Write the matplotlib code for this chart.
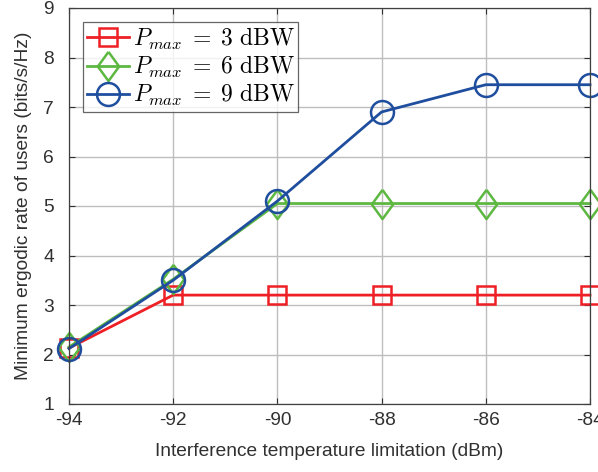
import numpy as np
import matplotlib
matplotlib.use('Agg')
import matplotlib.pyplot as plt

plt.rcParams['font.family'] = ['Liberation Sans', 'DejaVu Sans']
plt.rcParams['mathtext.fontset'] = 'cm'

# data
itl = [-94, -92, -90, -88, -86, -84]
rate_p3 = [2.13, 3.2, 3.2, 3.2, 3.2, 3.2]
rate_p6 = [2.15, 3.52, 5.05, 5.05, 5.05, 5.05]
rate_p9 = [2.12, 3.5, 5.1, 6.9, 7.45, 7.45]
labels = [r'$P_{max}\;=\;3\ \mathrm{dBW}$', r'$P_{max}\;=\;6\ \mathrm{dBW}$', r'$P_{max}\;=\;9\ \mathrm{dBW}$']

diamond = [(0, 1), (0.73, 0), (0, -1), (-0.73, 0), (0, 1)]

fig = plt.figure(figsize=(5.98, 4.72), dpi=100)
ax = fig.add_axes([69/598, 1 - 404/472, (590 - 69)/598, (404 - 8)/472])

ax.plot(itl, rate_p3, color='#ee1f25', lw=2, marker='s', ms=13, mew=1.8, mfc='none', label=labels[0], clip_on=False)
ax.plot(itl, rate_p6, color='#5db841', lw=2, marker=diamond, ms=21, mew=1.8, mfc='none', label=labels[1], clip_on=False)
ax.plot(itl, rate_p9, color='#1f4e9e', lw=2, marker='o', ms=16.5, mew=1.8, mfc='none', label=labels[2], clip_on=False)

ax.set_xlim(-94, -84)
ax.set_ylim(1, 9)
ax.set_xticks(itl)
ax.set_xticklabels([str(v) for v in itl])
ax.set_yticks(range(1, 10))
ax.tick_params(direction='in', labelsize=13.8, colors='#303030', top=True, right=True, length=4)
ax.tick_params(axis='x', pad=6)
ax.tick_params(axis='y', pad=11)
ax.grid(True, color='#bdbdbd', lw=1)
for s in ax.spines.values():
    s.set_color('#404040')
    s.set_linewidth(0.9)

ax.set_xlabel('Interference temperature limitation (dBm)', fontsize=13.8, color='#303030', labelpad=10)
ax.set_ylabel('Minimum ergodic rate of users (bits/s/Hz)', fontsize=13.8, color='#303030', labelpad=8)

leg = ax.legend(loc='upper left', fontsize=17, fancybox=False, edgecolor='#404040',
                handlelength=1.8, handletextpad=0.15, borderpad=0.15, labelspacing=0.1,
                borderaxespad=0.6)
leg.get_frame().set_linewidth(0.9)

fig.savefig('out.png', dpi=100)
